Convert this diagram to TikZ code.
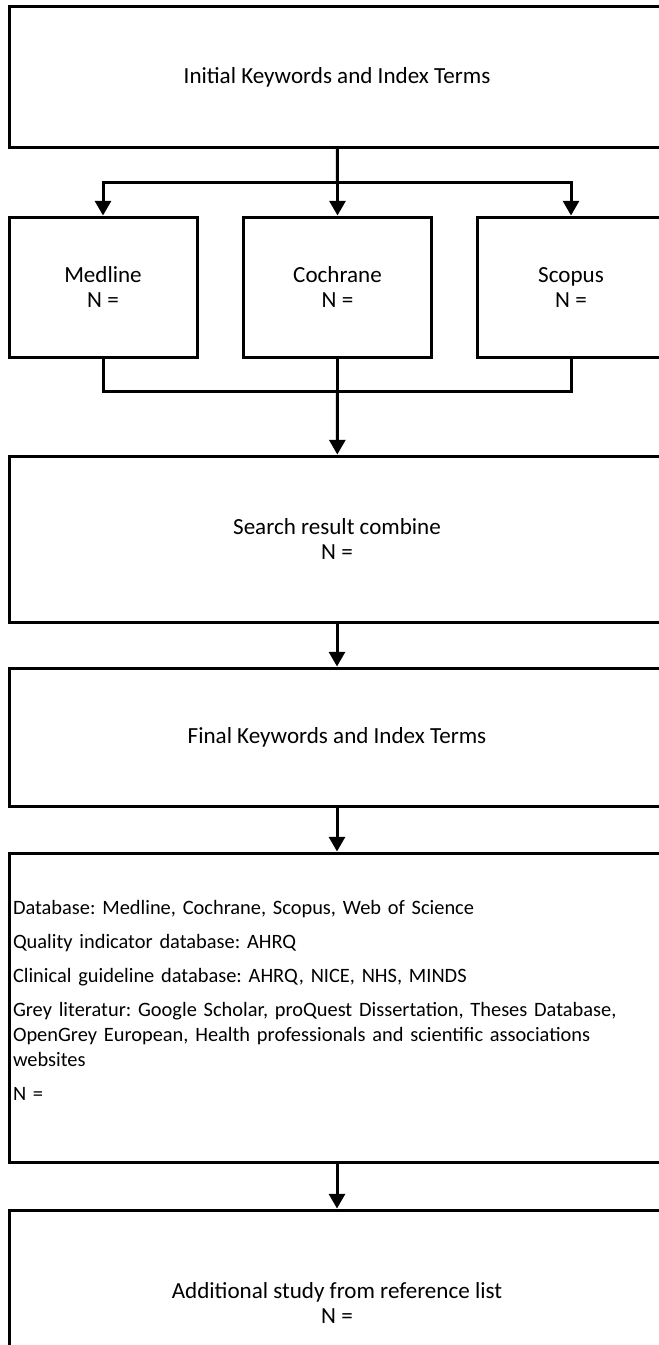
\documentclass[tikz,border=0pt]{standalone}
\usepackage{fontspec}
\setmainfont{Carlito}
\usetikzlibrary{arrows.meta}
\frenchspacing

\begin{document}
\begin{tikzpicture}[x=0.75pt,y=-0.75pt,
    every node/.style={font=\fontsize{17.3}{18.75}\selectfont},
    box/.style={draw,line width=2.25pt,align=center,inner sep=3pt},
    wide/.style={box,minimum width=492pt},
    small/.style={box,minimum width=141pt,minimum height=105pt},
    link/.style={line width=2.25pt},
    arr/.style={line width=2.25pt,-{Triangle[width=12pt,length=11pt]}}]
  \useasboundingbox (0,0) rectangle (659,1345);
  % boxes
  \node[wide,minimum height=105pt] (init) at (337,77) {Initial Keywords and Index Terms};
  \node[small] (med) at (103,287) {Medline\\N =};
  \node[small] (coch) at (337.5,287) {Cochrane\\N =};
  \node[small] (scop) at (571,287) {Scopus\vphantom{l}\\N =};
  \node[wide,minimum height=124.5pt] (comb) at (337,539) {Search result combine\\N =};
  \node[wide,minimum height=103.5pt] (final) at (337,737) {Final Keywords and Index Terms};
  \node[wide,minimum height=231.75pt,align=left,text width=486pt,
        font=\fontsize{15.3}{18.75}\selectfont] (db) at (337,1007.5)
    {Database: Medline, Cochrane, Scopus, Web of Science\\[6.75pt]
     Quality indicator database: AHRQ\\[6.75pt]
     Clinical guideline database: AHRQ, NICE, NHS, MINDS\\[6.75pt]
     Grey literatur: Google Scholar, proQuest Dissertation, Theses Database,\\
     OpenGrey European, Health professionals and scientific associations\\
     websites\\[6.75pt]
     N =\par\nointerlineskip\vspace{10.5pt}\hbox{}};
  \node[wide,minimum height=139.5pt] (extra) at (337,1303) {Additional study from reference list\\N =};
  % connectors
  \coordinate (split) at (337.5,182);
  \coordinate (join) at (337.5,391);
  \draw[link] (init) -- (split);
  \draw[arr] (split) -| (med.north);
  \draw[arr] (split) -- (coch);
  \draw[arr] (split) -| (scop.north);
  \draw[link] (med.south) |- (join);
  \draw[link] (scop.south) |- (join);
  \draw[link] (coch) -- (join);
  \draw[arr] (join) -- (comb);
  \draw[arr] (comb) -- (final);
  \draw[arr] (final) -- (db);
  \draw[arr] (db) -- (extra);
\end{tikzpicture}
\end{document}
